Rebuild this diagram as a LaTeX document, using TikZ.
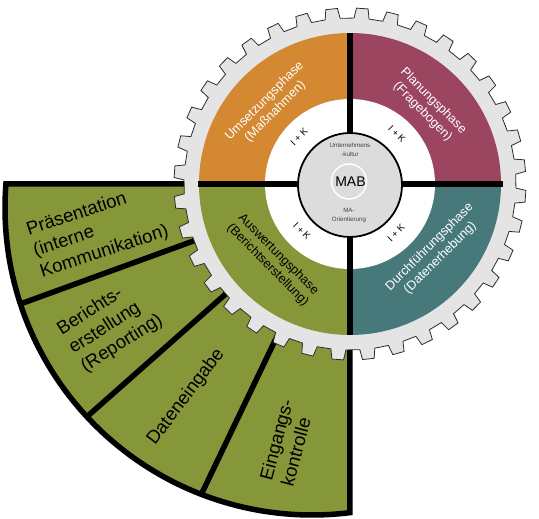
\documentclass[tikz,border=0pt]{standalone}
\usepackage{fontspec}
\setmainfont{Liberation Sans}
\definecolor{cOrange}{RGB}{211,136,49}
\definecolor{cPlum}{RGB}{156,69,96}
\definecolor{cTeal}{RGB}{71,121,122}
\definecolor{cOlive}{RGB}{133,151,57}
\definecolor{cGear}{RGB}{228,228,228}
\definecolor{cCore}{RGB}{220,220,220}
\definecolor{cTooth}{RGB}{45,45,45}
\begin{document}
\begin{tikzpicture}[x=1pt,y=1pt,
  fanline/.style={line width=5.5pt,draw=black},
  bar/.style={line width=6pt,draw=black},
  phase/.style={font=\fontsize{12.7}{15}\selectfont,align=center,inner sep=0pt},
  fanlabel/.style={font=\fontsize{18.5}{22}\selectfont,align=left,inner sep=0pt,text=black},
  ik/.style={font=\fontsize{9.5}{11}\selectfont,inner sep=0pt},
  tinytext/.style={font=\fontsize{6.2}{8.5}\selectfont,text=black!75,inner sep=0pt,align=center}]
\useasboundingbox (-350,184) rectangle (189,-335);

% ---- fan (behind the gear)
\fill[cOlive] (0,0) -- ([shift={(-38,-24)}]175.5:307) arc[start angle=175.5,end angle=277.1,radius=307] -- cycle;
\begin{scope}
  \clip (0,0) -- ([shift={(-38,-24)}]175.5:307) arc[start angle=175.5,end angle=277.1,radius=307] -- cycle;
  \draw[fanline] (0,0) -- (200:420);
  \draw[fanline] (0,0) -- (221.5:420);
  \draw[fanline] (0,0) -- (244.4:420);
\end{scope}
\draw[fanline,line join=miter] (0,0) -- ([shift={(-38,-24)}]175.5:307) arc[start angle=175.5,end angle=277.1,radius=307] -- cycle;

% ---- gear
\draw[fill=cGear,draw=cTooth,line width=0.8pt] (3.4:166)
  \foreach \k in {0,...,35}{ -- ({6+10*\k-2.6}:166) -- ({6+10*\k-1.9}:176) -- ({6+10*\k+1.9}:176) -- ({6+10*\k+2.6}:166)} -- cycle;

% ---- coloured quadrants
\fill[cPlum] (0,0) -- (0:151) arc[start angle=0,end angle=90,radius=151] -- cycle;
\fill[cOrange] (0,0) -- (90:151) arc[start angle=90,end angle=180,radius=151] -- cycle;
\fill[cOlive] (0,0) -- (180:151) arc[start angle=180,end angle=270,radius=151] -- cycle;
\fill[cTeal] (0,0) -- (270:151) arc[start angle=270,end angle=360,radius=151] -- cycle;
\fill[white] (0,0) circle[radius=85];

% ---- bars
\draw[bar] (0,151) -- (0,-151);
\draw[bar] (-152,0) -- (153,0);

% ---- core
\draw[fill=cCore,line width=1.8pt] (0,-1) circle[radius=52];
\draw[white,line width=1.5pt] (-1,2.5) circle[radius=17.5];

% ---- texts
\node[font=\fontsize{14}{16}\selectfont] (mab) at (0.5,2) {MAB};
\node[tinytext] (kultur) at (0,34.3) {Unternehmens\\-kultur};
\node[tinytext] (maor) at (-1,-31.3) {MA-\\Orientierung};

\node[ik,rotate=45] (ik1) at (-51,47) {I + K};
\node[ik,rotate=-45] (ik2) at (47,50) {I + K};
\node[ik,rotate=-45] (ik3) at (-48,-47) {I + K};
\node[ik,rotate=45] (ik4) at (46,-49) {I + K};

\node[phase,text=white,rotate=45] (ums) at (-80,77.5) {Umsetzungsphase\\(Maßnahmen)};
\node[phase,text=white,rotate=-45] (plan) at (78,77.5) {Planungsphase\\(Fragebogen)};
\node[phase,text=black,rotate=-45] (ausw) at (-77,-76) {Auswertungsphase\\(Berichtserstellung)};
\node[phase,text=white,rotate=45] (durch) at (85,-68.5) {Durchführungsphase\\(Datenerhebung)};

\node[fanlabel,rotate=18,anchor=west] (praes) at (-316,-67.7) {Präsentation\\(interne\\Kommunikation)};
\node[fanlabel,rotate=32.5,anchor=west] (bericht) at (-279,-166) {Berichts-\\erstellung\\(Reporting)};
\node[fanlabel,rotate=53] (daten) at (-164,-213) {Dateneingabe};
\node[fanlabel,rotate=75,anchor=west] (eing) at (-74,-299) {Eingangs-\\kontrolle};
\end{tikzpicture}
\end{document}
